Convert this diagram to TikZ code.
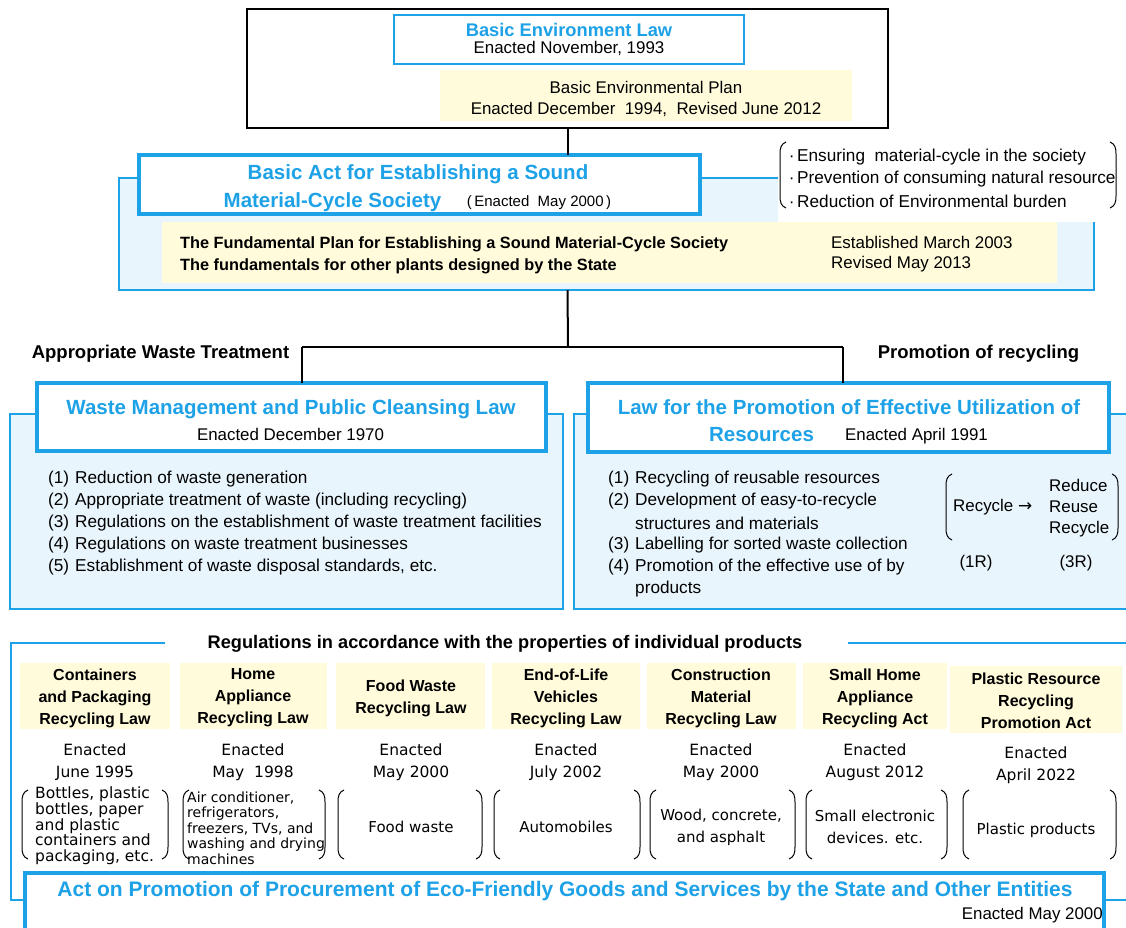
\documentclass[tikz,border=0pt]{standalone}
\usepackage{fontspec}
\setmainfont{Liberation Sans}
\newfontfamily\dv{DejaVu Sans}
\definecolor{lawblue}{RGB}{29,161,231}
\definecolor{panelfill}{RGB}{233,245,253}
\definecolor{cream}{RGB}{255,251,219}
\newcommand\itm[2]{\makebox[27pt][l]{(#1)}#2}
\newcommand\lpar[3]{\draw[parenline] ({#1+6},#2) .. controls ({#1+1},{#2+2}) and (#1,{#2+6}) .. (#1,{#2+12}) -- (#1,{#3-12}) .. controls (#1,{#3-6}) and ({#1+1},{#3-2}) .. ({#1+6},#3);}
\newcommand\rpar[3]{\draw[parenline] ({#1-6},#2) .. controls ({#1-1},{#2+2}) and (#1,{#2+6}) .. (#1,{#2+12}) -- (#1,{#3-12}) .. controls (#1,{#3-6}) and ({#1-1},{#3-2}) .. ({#1-6},#3);}
\begin{document}
\begin{tikzpicture}[x=1pt,y=-1pt,
  rect/.style={anchor=north west, inner sep=0pt, outer sep=0pt},
  bluebox/.style={rect, draw=lawblue, line width=4pt, fill=white},
  thinblue/.style={rect, draw=lawblue, line width=2.5pt, fill=white},
  blackbox/.style={rect, draw=black, line width=2pt, fill=white},
  panel/.style={rect, draw=lawblue, line width=1.5pt, fill=panelfill},
  creambox/.style={rect, fill=cream},
  conn/.style={draw=black, line width=2pt},
  frameline/.style={draw=lawblue, line width=1.5pt},
  parenline/.style={draw=black, line width=1pt},
  txt/.style={inner sep=0pt, font=\fontsize{16.9}{22}\selectfont},
  txts/.style={inner sep=0pt, font=\fontsize{15}{20}\selectfont},
  lst/.style={inner sep=0pt, anchor=west, font=\fontsize{17.2}{22}\selectfont},
  blt/.style={inner sep=0pt, anchor=west, font=\fontsize{17.2}{22}\selectfont},
  ttl/.style={inner sep=0pt, text=lawblue, font=\bfseries\fontsize{20.5}{24}\selectfont},
  ttlb/.style={inner sep=0pt, text=lawblue, font=\bfseries\fontsize{18.3}{22}\selectfont},
  bhd/.style={inner sep=0pt, font=\bfseries\fontsize{18.5}{22}\selectfont},
  fund/.style={inner sep=0pt, anchor=west, font=\bfseries\fontsize{16.3}{22}\selectfont},
  phd/.style={inner sep=0pt, align=center, font=\bfseries\fontsize{16}{22}\selectfont},
  pen/.style={inner sep=0pt, align=center, font=\dv\fontsize{15.5}{22}\selectfont},
  pit/.style={inner sep=0pt, align=center, font=\dv\fontsize{15}{22}\selectfont}
]
\useasboundingbox (0,0) rectangle (1126,927);
\clip (0,0) rectangle (1126,927);
\fill[white] (0,0) rectangle (1126,927);

% ---------- top: Basic Environment Law ----------
\node[blackbox, minimum width=641, minimum height=119] (envtop) at (247,9) {};
\node[thinblue, minimum width=350, minimum height=49] (bel) at (394,15) {};
\node[ttlb] (belT) at (569,30) {Basic Environment Law};
\node[txt] (belE) at (569,48) {Enacted November, 1993};
\node[creambox, minimum width=412, minimum height=51] (bep) at (440,70) {};
\node[txt] (bepT) at (646,87) {Basic Environmental Plan};
\node[txt] (bepE) at (646,109) {Enacted December\ \ 1994,\ \ Revised June 2012};

% ---------- Basic Act panel ----------
\node[panel, minimum width=975, minimum height=112] (panA) at (119,178) {};
\node[rect, fill=white, minimum width=350, minimum height=44] (bulletbg) at (778,140) {};
\node[rect, fill=white, minimum width=350, minimum height=40] (bulletbgb) at (778,182) {};
\node[bluebox, minimum width=561, minimum height=59] (act) at (139,155) {};
\node[ttl] (actT1) at (418,174) {Basic Act for Establishing a Sound};
\node[ttl] (actT2) at (332.5,202) {Material-Cycle Society};
\node[txts] (actE) at (539,203) {(\,Enacted\ \ May 2000\,)};

\lpar{780}{142}{208}
\rpar{1116}{142}{208}
\node[blt] (b1) at (786,157) {\makebox[11pt][c]{·}Ensuring\ \ material-cycle in the society};
\node[blt] (b2) at (786,179) {\makebox[11pt][c]{·}Prevention of consuming natural resource};
\node[blt] (b3) at (786,201) {\makebox[11pt][c]{·}Reduction of Environmental burden};

\node[creambox, minimum width=895, minimum height=61] (fundbox) at (162,222) {};
\node[fund] (f1) at (180,244) {The Fundamental Plan for Establishing a Sound Material-Cycle Society};
\node[fund] (f2) at (180,266) {The fundamentals for other plants designed by the State};
\node[txt, anchor=west] (f3) at (831,242) {Established March 2003};
\node[txt, anchor=west] (f4) at (831,264) {Revised May 2013};

\draw[conn] (envtop.south) -- (envtop.south |- act.north);

% ---------- two laws ----------
\node[bhd] (lblL) at (160.5,354) {Appropriate Waste Treatment};
\node[bhd] (lblR) at (978.5,354) {Promotion of recycling};

\node[panel, minimum width=553, minimum height=195] (panL) at (10,414) {};
\node[panel, minimum width=560, minimum height=195] (panR) at (574,414) {};
\node[bluebox, minimum width=509, minimum height=68] (waste) at (37,383) {};
\node[bluebox, minimum width=521, minimum height=69] (law) at (588,383) {};

\node[ttl] (wasteT) at (291,409) {Waste Management and Public Cleansing Law};
\node[txt] (wasteE) at (290.5,434) {Enacted December 1970};
\node[ttl] (lawT1) at (849,407) {Law for the Promotion of Effective Utilization of};
\node[ttl] (lawT2) at (761.5,435) {Resources};
\node[txt] (lawE) at (916.5,436) {Enacted April 1991};

\node[lst] (w1) at (48,479) {\itm{1}{Reduction of waste generation}};
\node[lst] (w2) at (48,501) {\itm{2}{Appropriate treatment of waste (including recycling)}};
\node[lst] (w3) at (48,523) {\itm{3}{Regulations on the establishment of waste treatment facilities}};
\node[lst] (w4) at (48,545) {\itm{4}{Regulations on waste treatment businesses}};
\node[lst] (w5) at (48,567) {\itm{5}{Establishment of waste disposal standards, etc.}};

\node[lst] (r1) at (608,479) {\itm{1}{Recycling of reusable resources}};
\node[lst] (r2) at (608,501) {\itm{2}{Development of easy-to-recycle}};
\node[lst] (r2b) at (635,523) {structures and materials};
\node[lst] (r3) at (608,545) {\itm{3}{Labelling for sorted waste collection}};
\node[lst] (r4) at (608,567) {\itm{4}{Promotion of the effective use of by}};
\node[lst] (r4b) at (635,589) {products};

\lpar{946}{474}{540}
\rpar{1118}{474}{540}
\node[txt, anchor=west] (rc) at (953,507) {Recycle\ {\dv →}};
\node[txt, anchor=west] (rr1) at (1049,485) {Reduce};
\node[txt, anchor=west] (rr2) at (1049,507) {Reuse};
\node[txt, anchor=west] (rr3) at (1049,529) {Recycle};
\node[txt] (oneR) at (976,563) {(1R)};
\node[txt] (threeR) at (1076,563) {(3R)};

\coordinate (jc) at (568,347);
\coordinate (jl) at (302,347);
\coordinate (jr) at (843,347);
\draw[conn] (envtop.south |- panA.south) -- (jc);
\draw[conn] (jl) -- (jr);
\draw[conn] (jl) -- (jl |- waste.north);
\draw[conn] (jr) -- (jr |- law.north);

% ---------- individual products ----------
\draw[frameline] (165,643) -- (11,643) -- (11,900) -- (25,900);
\draw[frameline] (848,643) -- (1130,643);
\draw[frameline] (1104,900) -- (1130,900);
\node[inner sep=0pt, font=\bfseries\fontsize{18.2}{22}\selectfont] (regT) at (505,644) {Regulations in accordance with the properties of individual products};

\node[creambox, minimum width=150, minimum height=66] (h1) at (20,663) {};
\node[creambox, minimum width=147, minimum height=66] (h2) at (180,663) {};
\node[creambox, minimum width=149, minimum height=66] (h3) at (336,663) {};
\node[creambox, minimum width=148, minimum height=66] (h4) at (492,663) {};
\node[creambox, minimum width=149, minimum height=66] (h5) at (647,663) {};
\node[creambox, minimum width=144, minimum height=66] (h6) at (803,663) {};
\node[creambox, minimum width=172, minimum height=67] (h7) at (950,666) {};

\node[phd] (h1t) at (95,698) {Containers\\and Packaging\\Recycling Law};
\node[phd] (h2t) at (253,698) {Home\\Appliance\\Recycling Law};
\node[phd] (h3t) at (411,698) {Food Waste\\Recycling Law};
\node[phd] (h4t) at (566,698) {End-of-Life\\Vehicles\\Recycling Law};
\node[phd] (h5t) at (721,698) {Construction\\Material\\Recycling Law};
\node[phd] (h6t) at (875,698) {Small Home\\Appliance\\Recycling Act};
\node[phd] (h7t) at (1036,701) {Plastic Resource\\Recycling\\Promotion Act};

\node[pen] (e1) at (95,762) {Enacted\\June 1995};
\node[pen] (e2) at (253,762) {Enacted\\May\ \ 1998};
\node[pen] (e3) at (411,762) {Enacted\\May 2000};
\node[pen] (e4) at (566,762) {Enacted\\July 2002};
\node[pen] (e5) at (721,762) {Enacted\\May 2000};
\node[pen] (e6) at (875,762) {Enacted\\August 2012};
\node[pen] (e7) at (1036,765) {Enacted\\April 2022};

\lpar{22}{790}{859}   \rpar{168}{790}{859}
\lpar{183}{790}{859}  \rpar{325}{790}{859}
\lpar{338}{790}{859}  \rpar{482}{790}{859}
\lpar{494}{790}{859}  \rpar{640}{790}{859}
\lpar{650}{790}{859}  \rpar{795}{790}{859}
\lpar{806}{790}{859}  \rpar{947}{790}{859}
\lpar{963}{790}{859}  \rpar{1116}{790}{859}

\node[inner sep=0pt, anchor=west, align=left, font=\dv\fontsize{15.5}{15.7}\selectfont] (i1) at (35,826) {Bottles, plastic\\bottles, paper\\and plastic\\containers and\\packaging, etc.};
\node[inner sep=0pt, anchor=west, align=left, font=\dv\fontsize{14}{15.5}\selectfont] (i2) at (187,828) {Air conditioner,\\refrigerators,\\freezers, TVs, and\\washing and drying\\machines};
\node[pit] (i3) at (411,827) {Food waste};
\node[pit] (i4) at (566,827) {Automobiles};
\node[pit] (i5) at (721,827) {Wood, concrete,\\and asphalt};
\node[pit] (i6) at (875,827) {Small electronic\\devices. etc.};
\node[pit] (i7) at (1036,830) {Plastic products};

% ---------- procurement act ----------
\node[bluebox, minimum width=1079, minimum height=64] (procure) at (25,873) {};
\node[ttl, font=\bfseries\fontsize{21}{24}\selectfont] (procT) at (565,891) {Act on Promotion of Procurement of Eco-Friendly Goods and Services by the State and Other Entities};
\node[txt, anchor=east] (procE) at (1103,915) {Enacted May 2000};
\end{tikzpicture}
\end{document}
